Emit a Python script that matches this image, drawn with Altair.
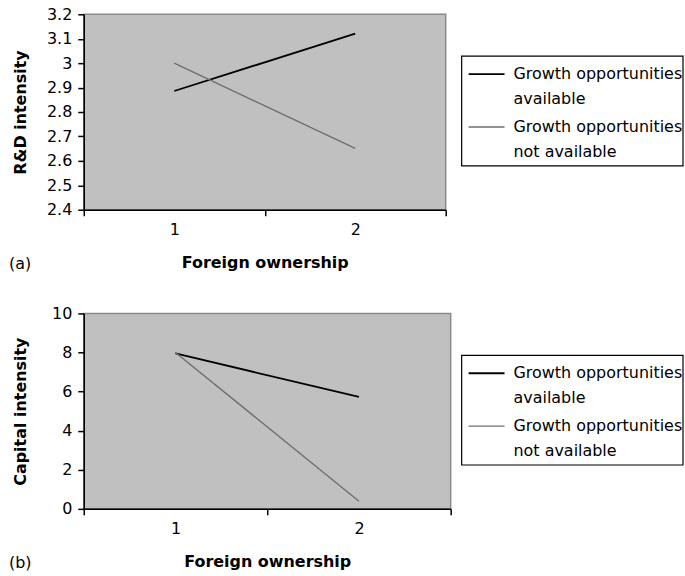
import altair as alt
import pandas as pd

series = ["Growth opportunities\navailable", "Growth opportunities\nnot available"]
x_vals = [1, 2]
rd_avail = [2.886, 3.121]
rd_not = [3.0, 2.651]
cap_avail = [7.95, 5.73]
cap_not = [8.0, 0.39]

rd_ticks = [2.4, 2.5, 2.6, 2.7, 2.8, 2.9, 3.0, 3.1, 3.2]
cap_ticks = [0, 2, 4, 6, 8, 10]

def frame(a, b):
    rows = []
    for s, vals in zip(series, [a, b]):
        for x, v in zip(x_vals, vals):
            rows.append({"series": s, "x": x, "y": v})
    return pd.DataFrame(rows)

FONT = "DejaVu Sans"
COLORS = ["#000000", "#6e6e6e"]
WIDTHS = [1.8, 1.4]

def panel(df, ytitle, ydomain, yticks, yfmt, width, letter):
    xaxis = alt.Axis(
        values=[0.5, 1.5, 2.5], title="Foreign ownership",
        labelExpr="datum.value == 0.5 ? '1' : (datum.value == 1.5 ? '2' : '')",
        labelOffset=width / 4, labelFlush=False, labelPadding=6,
        titlePadding=17, grid=False,
    )
    yaxis = alt.Axis(values=yticks, format=yfmt, title=ytitle, grid=False,
                     titleX=-55, labelPadding=6)
    color = alt.Color("series:N", scale=alt.Scale(domain=series, range=COLORS), legend=None)
    swidth = alt.StrokeWidth("series:N", scale=alt.Scale(domain=series, range=WIDTHS), legend=None)

    lines = alt.Chart(df).mark_line().encode(
        x=alt.X("x:Q", scale=alt.Scale(domain=[0.5, 2.5], nice=False, zero=False), axis=xaxis),
        y=alt.Y("y:Q", scale=alt.Scale(domain=ydomain, nice=False, zero=False), axis=yaxis),
        color=color, strokeWidth=swidth,
    )
    tag = alt.Chart(pd.DataFrame({"t": [letter]})).mark_text(
        font=FONT, fontSize=16, align="left", baseline="middle", color="#000"
    ).encode(text="t:N", x=alt.value(-75), y=alt.value(196 + 54))

    # legend (drawn as its own small layer, entries taken from the series list)
    leg = pd.DataFrame({"series": series, "row": [0, 1]})
    ly = alt.Y("row:Q", scale=alt.Scale(domain=[0, 1], range=[60, 113]), axis=None)
    box = alt.Chart(pd.DataFrame({"b": [0]})).mark_rect(
        fill="white", stroke="#000", strokeWidth=1.2
    ).encode(x=alt.value(379), x2=alt.value(601), y=alt.value(42), y2=alt.value(152))
    sym = alt.Chart(leg).mark_rule().encode(
        x=alt.value(386), x2=alt.value(422), y=ly, color=color, strokeWidth=swidth,
    )
    lab = alt.Chart(leg).mark_text(
        align="left", baseline="middle", lineBreak="\n", lineHeight=25,
        font=FONT, fontSize=16, color="#000",
    ).encode(x=alt.value(431), y=ly, text="series:N")

    return alt.layer(lines, tag, box, sym, lab).resolve_scale(y="independent").properties(
        width=width, height=196
    )

a = panel(frame(rd_avail, rd_not), "R&D intensity", [2.4, 3.2], rd_ticks, "~g", 363, "(a)")
b = panel(frame(cap_avail, cap_not), "Capital intensity", [0, 10], cap_ticks, "d", 368, "(b)")

chart = alt.vconcat(a, b, spacing=32).properties(
    padding={"top": 4.5, "left": 8, "right": 0, "bottom": 0},
    background="white",
).configure_view(
    fill="#c0c0c0", stroke="#8a8a8a", strokeWidth=1.5
).configure_axis(
    domainColor="#000", tickColor="#000", domainWidth=1.5, tickWidth=1.5, tickSize=6,
    labelFont=FONT, labelFontSize=16, labelColor="#000",
    titleFont=FONT, titleFontSize=16, titleFontWeight="bold", titleColor="#000",
)

chart.save("out.html", embed_options={"renderer": "svg", "actions": False})
